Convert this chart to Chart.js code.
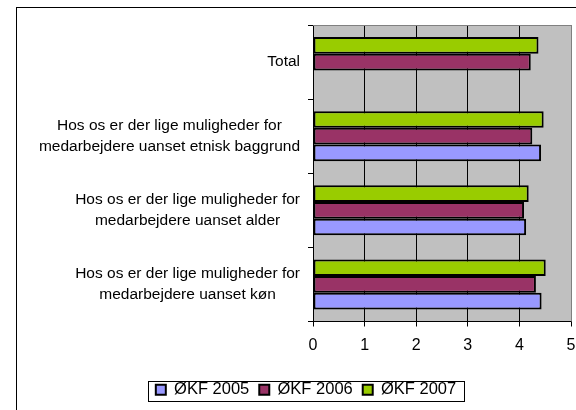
<!DOCTYPE html>
<html lang="da">
<head>
  <meta charset="UTF-8">
  <title>Lige muligheder - ØKF 2005-2007</title>
  <script src="https://cdn.jsdelivr.net/npm/chart.js"></script>
  <style>
    html, body { margin: 0; padding: 0; background: #fff; }
    #wrap { width: 576px; height: 410px; position: relative; }
  </style>
</head>
<body>

<div id="wrap"><canvas id="lighedChart" width="576" height="410"></canvas></div>

<script>
  // Kategorier, oppefra og ned
  const kategorier = [
    ['Total'],
    ['Hos os er der lige muligheder for', 'medarbejdere uanset etnisk baggrund'],
    ['Hos os er der lige muligheder for', 'medarbejdere uanset alder'],
    ['Hos os er der lige muligheder for', 'medarbejdere uanset køn']
  ];

  const okf2005 = [null, 4.42, 4.13, 4.43];
  const okf2006 = [4.22, 4.25, 4.09, 4.32];
  const okf2007 = [4.37, 4.47, 4.18, 4.51];

  const xTicks = [0, 1, 2, 3, 4, 5];

  const FONT = "'Liberation Sans', Arial, sans-serif";

  // Grå baggrund, ramme og kategoritekster
  const excelLook = {
    id: 'excelLook',
    beforeDraw(chart) {
      const { ctx, chartArea: a } = chart;
      ctx.save();
      ctx.strokeStyle = '#000';
      ctx.lineWidth = 1;
      ctx.strokeRect(16.5, 7.5, 700, 600);
      ctx.fillStyle = '#c0c0c0';
      ctx.fillRect(a.left, a.top, a.right - a.left, a.bottom - a.top);
      ctx.restore();
    },
    beforeDatasetsDraw(chart) {
      const { ctx, chartArea: a } = chart;
      ctx.save();
      ctx.strokeStyle = '#808080';
      ctx.lineWidth = 1;
      ctx.beginPath();
      ctx.moveTo(a.left, a.top + 0.5);
      ctx.lineTo(a.right + 0.5, a.top + 0.5);
      ctx.lineTo(a.right + 0.5, a.bottom);
      ctx.stroke();
      ctx.restore();
    },
    afterDraw(chart) {
      const { ctx } = chart;
      const yScale = chart.scales.y;
      ctx.save();
      ctx.font = '15.5px ' + FONT;
      ctx.fillStyle = '#000';
      ctx.textAlign = 'center';
      ctx.textBaseline = 'middle';
      const right = yScale.right - 13;
      const lineH = 21;
      kategorier.forEach((lines, i) => {
        const yc = yScale.getPixelForTick(i);
        const w = Math.max(...lines.map(l => ctx.measureText(l).width));
        const cx = right - w / 2;
        lines.forEach((l, j) => {
          ctx.fillText(l, cx, yc + (j - (lines.length - 1) / 2) * lineH);
        });
      });

      // ramme om forklaringen
      const boxes = chart.legend.legendHitBoxes;
      if (boxes && boxes.length) {
        const l = Math.min(...boxes.map(b => b.left));
        const r = Math.max(...boxes.map(b => b.left + b.width));
        const t = boxes[0].top;
        const h = boxes[0].height;
        const cy = t + h / 2;
        ctx.strokeStyle = '#000';
        ctx.lineWidth = 1;
        ctx.strokeRect(Math.round(l - 8) + 0.5, Math.round(cy - 9) + 0.5, Math.round(r - l + 16), 20);
      }
      ctx.restore();
    }
  };

  new Chart(document.getElementById('lighedChart'), {
    type: 'bar',
    data: {
      labels: kategorier,
      datasets: [
        { label: 'ØKF 2007', data: okf2007, backgroundColor: '#99cc00' },
        { label: 'ØKF 2006', data: okf2006, backgroundColor: '#993366' },
        { label: 'ØKF 2005', data: okf2005, backgroundColor: '#9999ff' }
      ].map(d => Object.assign(d, {
        borderColor: '#000',
        borderWidth: 2,
        borderSkipped: false,
        categoryPercentage: 0.675,
        barPercentage: 1
      }))
    },
    options: {
      indexAxis: 'y',
      responsive: false,
      animation: false,
      devicePixelRatio: 1,
      layout: { padding: { left: 41, right: 5, top: 25, bottom: 2 } },
      scales: {
        x: {
          min: 0,
          max: 5,
          afterBuildTicks: scale => { scale.ticks = xTicks.map(v => ({ value: v })); },
          afterFit: scale => {
            scale.height = 50;
            scale.paddingLeft = 0;
            scale.paddingRight = 0;
          },
          ticks: { color: '#000', padding: 9, font: { family: FONT, size: 16 } },
          grid: {
            color: c => (c.tick && c.tick.value === 5 ? '#808080' : '#000'),
            tickColor: '#000',
            tickLength: 5,
            lineWidth: 1
          },
          border: { color: '#000', width: 1 }
        },
        y: {
          afterFit: scale => { scale.width = 272; },
          ticks: { display: false },
          grid: {
            offset: true,
            drawOnChartArea: false,
            color: '#000',
            tickLength: 5
          },
          border: { color: '#000', width: 1 }
        }
      },
      plugins: {
        legend: {
          position: 'bottom',
          reverse: true,
          labels: {
            color: '#000',
            boxWidth: 10,
            boxHeight: 10,
            padding: 10,
            font: { family: FONT, size: 16.5 }
          }
        },
        tooltip: { enabled: false }
      }
    },
    plugins: [excelLook]
  });
</script>

</body>
</html>
